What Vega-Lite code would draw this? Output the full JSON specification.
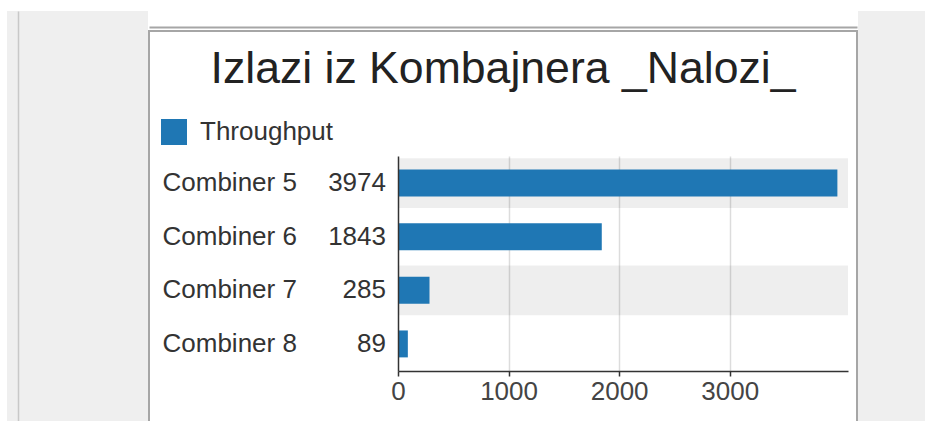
{
  "$schema": "https://vega.github.io/schema/vega-lite/v6.json",
  "background": "white",
  "padding": {"left": 7, "top": 11, "right": 0, "bottom": 0},
  "spacing": 0,
  "config": {"view": {"stroke": null}, "font": "Liberation Sans"},
  "resolve": {"scale": {"color": "independent"}, "legend": {"color": "independent"}},
  "datasets": {
    "throughput": [
      {"name": "Combiner 5", "throughput": 3974},
      {"name": "Combiner 6", "throughput": 1843},
      {"name": "Combiner 7", "throughput": 285},
      {"name": "Combiner 8", "throughput": 89}
    ]
  },
  "hconcat": [
    {
      "width": 11, "height": 410,
      "view": {"fill": "#efefef", "stroke": null},
      "data": {"values": []},
      "mark": "point",
      "encoding": {}
    },
    {
      "width": 130, "height": 410,
      "view": {"fill": "#efefef", "stroke": null},
      "data": {"values": [{"v": 0}]},
      "mark": {"type": "tick", "opacity": 0},
      "encoding": {
        "y": {"field": "v", "type": "quantitative",
          "axis": {"domain": true, "domainColor": "#c8c8c8", "domainWidth": 1.5, "labels": false, "ticks": false, "grid": false, "title": null}}
      }
    },
    {
      "spacing": 3,
      "resolve": {"scale": {"color": "independent"}, "legend": {"color": "independent"}},
      "vconcat": [
        {
          "width": 708, "height": 16,
          "view": {"fill": "white", "stroke": null},
          "data": {"values": [{"v": 0}]},
          "mark": {"type": "tick", "opacity": 0},
          "encoding": {
            "x": {"field": "v", "type": "quantitative",
              "axis": {"domain": true, "domainColor": "#a6a6a6", "domainWidth": 2, "labels": false, "ticks": false, "grid": false, "title": null}}
          }
        },
        {
          "width": 708, "height": 400,
          "view": {"fill": "white", "stroke": "#a6a6a6", "strokeWidth": 2},
          "title": {
            "text": "Izlazi iz Kombajnera _Nalozi_",
            "fontSize": 44.6, "fontWeight": "normal", "font": "Liberation Sans",
            "color": "#222222", "anchor": "middle", "frame": "group",
            "baseline": "alphabetic", "offset": -55, "dy": 42
          },
          "data": {"name": "throughput"},
          "resolve": {"axis": {"x": "independent"}},
          "encoding": {
            "y": {"field": "name", "type": "nominal",
              "scale": {"type": "band", "domain": ["Combiner 5", "Combiner 6", "Combiner 7", "Combiner 8"], "range": [125, 340], "paddingInner": 0.07, "paddingOuter": 0.04},
              "axis": {"orient": "left", "offset": -249, "domainColor": "#333333", "domainWidth": 1.5,
                "ticks": false, "tickSize": 0, "labelAlign": "left", "labelPadding": 236,
                "labelFontSize": 26, "labelColor": "#333333", "labelFont": "Liberation Sans",
                "title": null, "grid": false}}
          },
          "layer": [
            {
              "transform": [{"filter": "datum.name === 'Combiner 5' || datum.name === 'Combiner 7'"}],
              "mark": {"type": "rect", "color": "#000000", "opacity": 0.066},
              "encoding": {
                "x": {"datum": 0, "type": "quantitative",
                  "scale": {"domain": [0, 4070], "range": [249, 699], "nice": false, "zero": true},
                  "axis": {"orient": "top", "offset": 0, "values": [1000, 2000, 3000], "domain": false, "ticks": false, "labels": false,
                    "grid": true, "gridColor": "#dcdcdc", "gridWidth": 1.5, "title": null}},
                "x2": {"datum": 4070}
              }
            },
            {
              "mark": {"type": "bar", "height": {"band": 0.54}},
              "encoding": {
                "x": {"field": "throughput", "type": "quantitative",
                  "scale": {"domain": [0, 4070], "range": [249, 699], "nice": false, "zero": true},
                  "axis": {"orient": "bottom", "offset": -60, "values": [0, 1000, 2000, 3000], "format": "d",
                    "domainColor": "#333333", "domainWidth": 1.5, "tickColor": "#333333", "tickSize": 5, "tickWidth": 1.5,
                    "labelFontSize": 26, "labelColor": "#444444", "labelPadding": 2, "labelFont": "Liberation Sans",
                    "labelFlush": false, "grid": false, "title": null}},
                "color": {"datum": "Throughput", "type": "nominal",
                  "scale": {"range": ["#1f77b4"]},
                  "legend": {"orient": "none", "legendX": 12, "legendY": 88, "title": null,
                    "symbolType": "square", "symbolSize": 676, "symbolStrokeWidth": 0,
                    "labelFontSize": 26, "labelColor": "#333333", "labelFont": "Liberation Sans",
                    "labelOffset": 13, "padding": 0}}
              }
            },
            {
              "mark": {"type": "text", "align": "right", "baseline": "middle", "dx": -12,
                "fontSize": 26, "font": "Liberation Sans", "color": "#333333"},
              "encoding": {
                "x": {"datum": 0, "type": "quantitative", "axis": null},
                "text": {"field": "throughput", "type": "quantitative"}
              }
            }
          ]
        }
      ]
    },
    {
      "width": 68, "height": 410,
      "view": {"fill": "#efefef", "stroke": null},
      "data": {"values": []},
      "mark": "point",
      "encoding": {}
    }
  ]
}
